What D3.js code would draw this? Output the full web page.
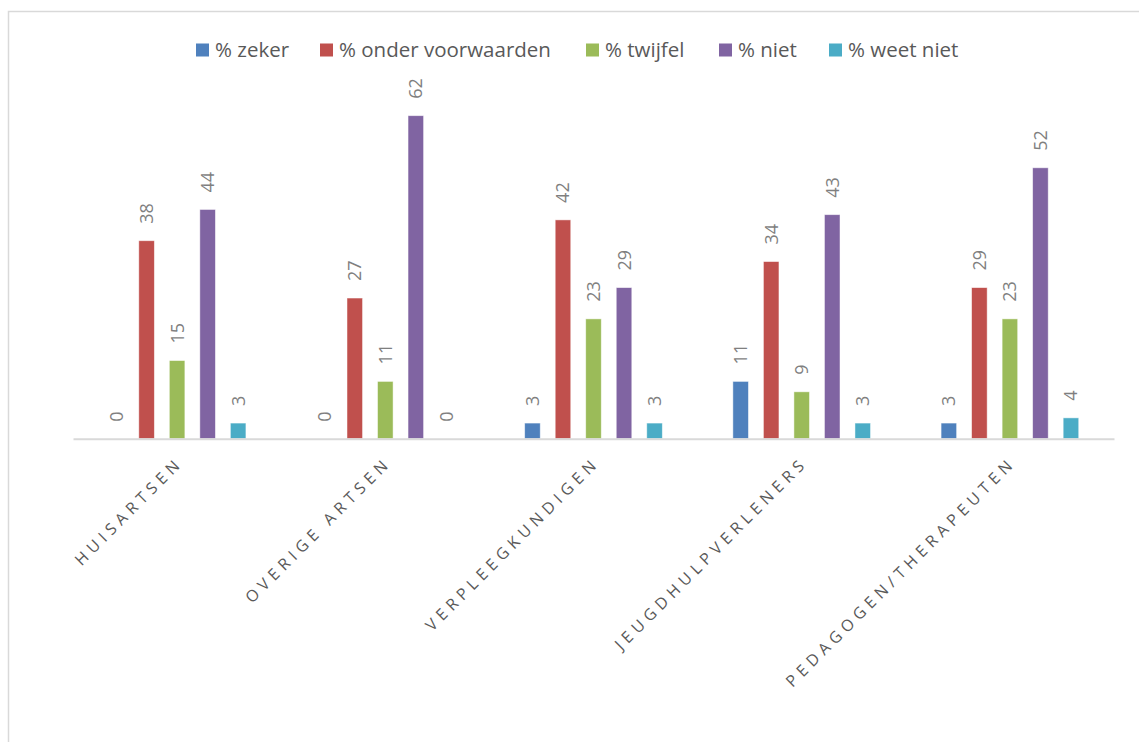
<!DOCTYPE html>
<html>
<head>
<meta charset="utf-8">
<script src="https://cdn.jsdelivr.net/npm/d3@7"></script>
<style>
  html, body { margin: 0; padding: 0; background: #ffffff; }
  svg { display: block; }
</style>
</head>
<body>
<svg id="chart" width="1139" height="742"></svg>
<script>
const categories = ["HUISARTSEN", "OVERIGE ARTSEN", "VERPLEEGKUNDIGEN", "JEUGDHULPVERLENERS", "PEDAGOGEN/THERAPEUTEN"];
const seriesNames = ["% zeker", "% onder voorwaarden", "% twijfel", "% niet", "% weet niet"];
const seriesColors = ["#4f81bd", "#c0504d", "#9bbb59", "#8064a2", "#4bacc6"];
const zeker = [0, 0, 3, 11, 3];
const onderVoorwaarden = [38, 27, 42, 34, 29];
const twijfel = [15, 11, 23, 9, 23];
const niet = [44, 62, 29, 43, 52];
const weetNiet = [3, 0, 3, 3, 4];
const seriesValues = [zeker, onderVoorwaarden, twijfel, niet, weetNiet];
const legendX = [196, 320, 586, 719, 829];

const svg = d3.select("#chart");
const font = "'Open Sans', 'Noto Sans', sans-serif";

// chart frame
svg.append("rect")
  .attr("x", 8.5).attr("y", 11.5)
  .attr("width", 1160).attr("height", 760)
  .attr("fill", "none").attr("stroke", "#d9d9d9").attr("stroke-width", 1.5);

const x0 = d3.scaleBand().domain(categories).range([73, 1114])
  .paddingInner(0.267).paddingOuter(0.1335);
const x1 = d3.scaleBand().domain(seriesNames).range([0, x0.bandwidth()])
  .paddingInner(0.49).paddingOuter(0.245);
const y = d3.scaleLinear().domain([0, 70]).range([438.7, 74]);

const rows = categories.map((c, i) => ({
  cat: c,
  vals: seriesNames.map((s, j) => ({ s, j, v: seriesValues[j][i] }))
}));

const groups = svg.append("g").selectAll("g").data(rows).join("g")
  .attr("transform", d => `translate(${x0(d.cat)},0)`);

groups.selectAll("rect").data(d => d.vals).join("rect")
  .attr("x", d => x1(d.s))
  .attr("y", d => y(d.v))
  .attr("width", x1.bandwidth())
  .attr("height", d => y(0) - y(d.v))
  .attr("fill", d => seriesColors[d.j])
  .attr("stroke", "#ffffff").attr("stroke-opacity", 0.6).attr("stroke-width", 0.8);

groups.selectAll("text.val").data(d => d.vals).join("text")
  .attr("class", "val")
  .attr("transform", d => `translate(${x1(d.s) + x1.bandwidth() / 2},${y(d.v) - 17}) rotate(-90)`)
  .attr("dy", "0.36em")
  .attr("font-family", font).attr("font-size", 18)
  .attr("fill", "#7f7f7f")
  .text(d => d.v);

// baseline axis
const xAxis = svg.append("g").attr("transform", `translate(0,${y(0)})`)
  .call(d3.axisBottom(x0).tickSize(0).tickPadding(0));
xAxis.select(".domain").attr("stroke", "#d9d9d9").attr("stroke-width", 2);
xAxis.selectAll(".tick text")
  .attr("text-anchor", "end")
  .attr("font-family", font).attr("font-size", 16)
  .attr("letter-spacing", "5px")
  .attr("fill", "#595959")
  .attr("dy", 0).attr("y", 0)
  .attr("transform", "translate(7,25) rotate(-45)");

// legend
const leg = svg.append("g");
seriesNames.forEach((s, j) => {
  leg.append("rect").attr("x", legendX[j]).attr("y", 43.5)
    .attr("width", 13).attr("height", 13).attr("fill", seriesColors[j]);
  leg.append("text").attr("x", legendX[j] + 19).attr("y", 56.5)
    .attr("font-family", font).attr("font-size", 20.5).attr("fill", "#595959")
    .text(s);
});
</script>
</body>
</html>
